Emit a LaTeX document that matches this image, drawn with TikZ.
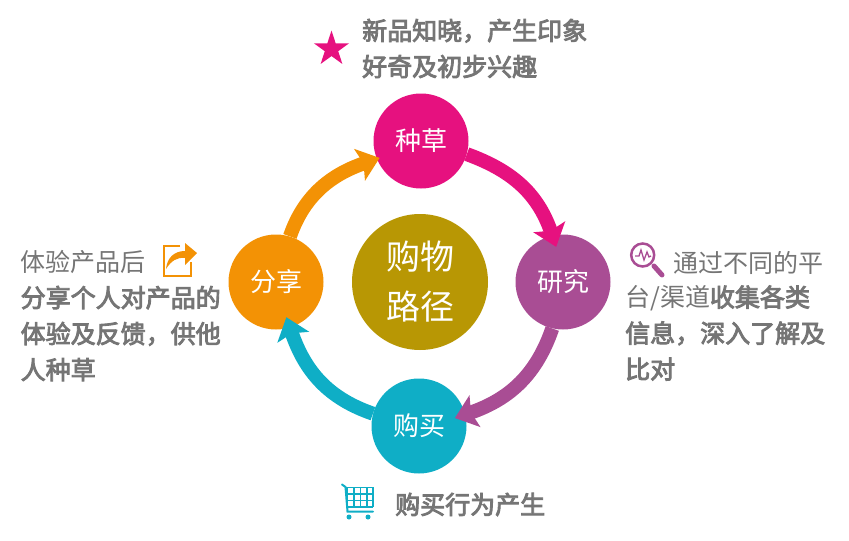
\documentclass[tikz,border=0pt]{standalone}
\usepackage{fontspec}
\setmainfont{Noto Sans CJK SC}
\newfontfamily\semifont[FakeBold=3.5]{Noto Sans CJK SC}
\usetikzlibrary{arrows.meta,shapes.geometric}
\definecolor{cpink}{HTML}{E6117F}
\definecolor{cpurple}{HTML}{A94D94}
\definecolor{cteal}{HTML}{0FAEC6}
\definecolor{corange}{HTML}{F39205}
\definecolor{cgold}{HTML}{B89704}
\definecolor{ctext}{HTML}{757575}
\tikzset{
	stage/.style={circle,fill=#1,text=white,minimum size=95pt,inner sep=0pt,font=\fontsize{26}{30}\selectfont},
	flow/.style={draw=#1,line width=14pt,-{Stealth[length=21pt,width=33pt,inset=4pt]}},
	note/.style={text=ctext,inner sep=0pt,align=left,font=\fontsize{25}{36}\selectfont},
}
\begin{document}
\begin{tikzpicture}[x=1pt,y=-1pt]
	\useasboundingbox (0,0) rectangle (849,541);
	\node[stage=cpink] (zhongcao) at (421,141) {种草};
	\node[stage=cpurple] (yanjiu) at (563,282) {研究};
	\node[stage=cteal] (goumai) at (419,426) {购买};
	\node[stage=corange] (fenxiang) at (276,282) {分享};
	\node[circle,fill=cgold,text=white,minimum size=136pt,inner sep=0pt,align=center,
		font=\fontsize{34}{50}\selectfont] (gouwu) at (420,282) {购物\\路径};
	% arrows
	\draw[flow=cpink,shorten >=-12pt] (zhongcao.-16) to[out=-20,in=109] (yanjiu.103);
	\draw[flow=cpurple,shorten >=-11pt] (yanjiu.257) to[out=-109,in=19] (goumai.14);
	\draw[flow=cteal,shorten >=-11pt] (goumai.165) to[out=161,in=-71] (fenxiang.-73);
	\draw[flow=corange,shorten >=-3pt] (fenxiang.73) to[out=71,in=199] (zhongcao.202);
	% top
	\node[star,star points=5,star point ratio=2.618,fill=cpink,minimum size=37pt,inner sep=0pt] (staricon) at (331.5,49) {};
	\node[note,anchor=west] (topnote) at (362,48.5) {\semifont 新品知晓，产生印象\\\semifont 好奇及初步兴趣};
	% right
	\node[note,anchor=west] (rightfirst) at (673,262.5) {通过不同的平};
	\node[note,anchor=west] (rightnote) at (625,333) {台/渠道{\semifont 收集各类}\\\semifont 信息，深入了解及\\\semifont 比对};
	\draw[cpurple,line width=2.5pt] (642.7,255) circle[radius=11.5];
	\draw[cpurple,line width=5pt,line cap=round] (654,266) -- (662,275);
	\draw[cpurple,line width=1.3pt] (635,256) -- (639,256) -- (641,250) -- (644,260) -- (647,252) -- (649,257) -- (651,256);
	% left
	\node[note,anchor=west] (leftnote) at (20.5,315.5) {体验产品后\\\semifont 分享个人对产品的\\\semifont 体验及反馈，供他\\\semifont 人种草};
	\draw[corange,line width=2.5pt] (180,246.2) -- (164,246.2) -- (164,276) -- (191,276) -- (191,262);
	\fill[corange] (166,269) .. controls (167,258) and (174,251) .. (185,251) -- (185,243) -- (197,253) -- (185,265) -- (185,258) .. controls (177,257) and (171,261) .. (166,269) -- cycle;
	% bottom
	\node[note,anchor=west] (bottomnote) at (395,504.5) {\semifont 购买行为产生};
	\draw[cteal,line width=2pt,line cap=round] (342,484.5) -- (345.5,487) -- (347.5,511.5) -- (373,511.5);
	\foreach \x in {347,354,360.5,367,373} \draw[cteal,line width=1.8pt] (\x,487) -- (\x,507);
	\foreach \y in {487.5,494,500.5,507} \draw[cteal,line width=1.8pt] (347,\y) -- (373,\y);
	\fill[cteal] (349,517) circle[radius=2.5] (368,517) circle[radius=2.5];
\end{tikzpicture}
\end{document}
